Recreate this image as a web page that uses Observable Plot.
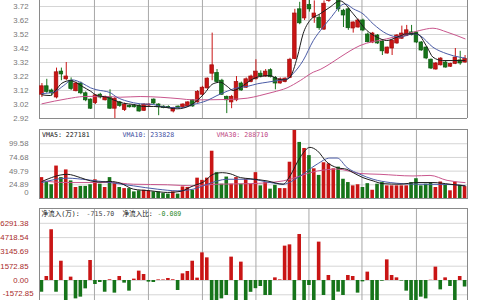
<!DOCTYPE html>
<html>
<head>
<meta charset="utf-8">
<script src="https://cdn.jsdelivr.net/npm/d3@7"></script>
<script src="https://cdn.jsdelivr.net/npm/@observablehq/plot@0.6"></script>
<style>
  html, body { margin: 0; padding: 0; background: #fff; }
  #chart { position: relative; width: 500px; height: 300px; overflow: hidden; background: #fff; }
  #chart svg { position: absolute; left: 0; }
</style>
</head>
<body>
<div id="chart"></div>
<script>
// Daily candles (price), one entry per trading day
const opens = [3.09,3.15,3.12,3.07,3.255,3.20,3.19,3.115,3.17,3.10,3.055,3.03,3.09,3.05,3.07,2.99,3.035,2.98,3.01,3.01,3.01,2.975,3.013,3.055,3.02,3.005,3.003,2.97,3.005,3.0,3.006,3.05,3.035,3.09,3.135,3.24,3.245,3.19,3.075,3.035,3.05,3.17,3.14,3.18,3.20,3.24,3.22,3.265,3.21,3.17,3.18,3.21,3.345,3.70,3.635,3.73,3.64,3.64,3.555,3.76,3.82,3.86,3.69,3.70,3.563,3.57,3.62,3.52,3.463,3.513,3.47,3.384,3.42,3.456,3.49,3.51,3.535,3.534,3.463,3.427,3.34,3.27,3.30,3.32,3.29,3.31,3.335,3.32];
const highs = [3.17,3.20,3.13,3.28,3.28,3.32,3.21,3.18,3.18,3.11,3.06,3.09,3.10,3.08,3.125,3.07,3.04,3.03,3.015,3.02,3.02,3.025,3.025,3.06,3.025,3.01,3.01,3.0,3.01,3.025,3.04,3.055,3.12,3.15,3.21,3.53,3.27,3.20,3.08,3.085,3.22,3.18,3.21,3.23,3.34,3.26,3.27,3.275,3.22,3.21,3.21,3.35,3.70,3.75,3.78,3.77,3.76,3.66,3.76,3.88,3.90,3.88,3.70,3.71,3.61,3.63,3.63,3.53,3.535,3.52,3.475,3.43,3.48,3.52,3.58,3.585,3.585,3.54,3.47,3.43,3.345,3.32,3.355,3.33,3.315,3.42,3.40,3.37];
const lows = [3.07,3.10,3.08,3.06,3.19,3.19,3.12,3.11,3.09,3.04,2.985,3.02,3.06,3.045,2.985,2.92,3.0,2.97,2.995,2.995,2.965,2.97,3.005,3.02,2.94,2.99,2.99,2.96,2.99,2.995,3.0,3.0,3.03,3.08,3.13,3.19,3.17,3.085,2.955,2.99,3.04,3.115,3.135,3.175,3.195,3.21,3.215,3.21,3.125,3.165,3.175,3.205,3.34,3.59,3.62,3.68,3.60,3.55,3.55,3.75,3.79,3.68,3.57,3.55,3.53,3.565,3.54,3.46,3.455,3.45,3.37,3.38,3.37,3.45,3.485,3.505,3.51,3.455,3.40,3.34,3.27,3.265,3.295,3.28,3.285,3.305,3.30,3.315];
const closes = [3.15,3.11,3.10,3.25,3.235,3.22,3.13,3.17,3.10,3.05,2.99,3.085,3.07,3.07,2.99,3.06,3.01,3.02,3.0,3.0,2.97,3.02,3.02,3.027,3.0,2.995,2.995,2.995,2.995,3.02,3.035,3.006,3.11,3.14,3.205,3.30,3.18,3.09,3.05,3.075,3.18,3.12,3.20,3.22,3.255,3.22,3.255,3.215,3.17,3.20,3.205,3.34,3.67,3.60,3.765,3.70,3.67,3.565,3.74,3.84,3.87,3.70,3.656,3.565,3.606,3.62,3.549,3.465,3.527,3.456,3.40,3.427,3.477,3.513,3.527,3.55,3.515,3.463,3.406,3.349,3.277,3.313,3.348,3.284,3.31,3.355,3.313,3.345];

// Moving averages of the close, as [day, price]
const ma5 = [[0,3.089],[1.7,3.084],[2.8,3.12],[4.1,3.172],[5.9,3.191],[6.9,3.179],[8.3,3.149],[10,3.115],[11.3,3.084],[13.4,3.072],[14.7,3.053],[16.8,3.029],[18.9,3.02],[20.9,3.006],[23,3.006],[25,3.001],[27.8,2.989],[30.5,3.013],[33.2,3.091],[35.2,3.168],[36.7,3.179],[38.1,3.149],[39.3,3.12],[41.4,3.156],[42.8,3.191],[44.8,3.22],[46.9,3.227],[48.4,3.203],[50,3.196],[51,3.215],[52.5,3.358],[53.7,3.525],[55.1,3.62],[57.2,3.668],[59.2,3.715],[61.3,3.76],[64,3.668],[66.8,3.549],[68.9,3.501],[70.9,3.477],[73,3.501],[75.1,3.525],[77.1,3.525],[79.2,3.429],[80.4,3.358],[82.4,3.334],[84.5,3.334],[87,3.334]];
const ma10 = [[0,3.098],[2.4,3.108],[4.5,3.156],[6.2,3.196],[8.3,3.172],[10,3.139],[11.3,3.125],[14,3.105],[15.4,3.072],[17.5,3.044],[20.2,3.025],[23,3.02],[24.3,3.006],[28.4,2.996],[31.1,3.02],[34,3.049],[36,3.084],[38.1,3.115],[40.1,3.139],[42.2,3.149],[44.3,3.168],[46.3,3.179],[48.4,3.191],[50.4,3.203],[51.6,3.239],[53.7,3.334],[55.8,3.477],[57.8,3.572],[59.2,3.632],[62.3,3.739],[64,3.704],[66,3.668],[68.1,3.596],[70.9,3.525],[73.6,3.501],[76.3,3.525],[77.7,3.513],[80.4,3.429],[83.3,3.382],[85.9,3.358],[87,3.353]];
const ma30 = [[0,3.025],[5.2,3.061],[8.6,3.077],[12,3.079],[16.1,3.072],[20.2,3.077],[24.3,3.072],[28.4,3.061],[31.1,3.053],[38.1,3.056],[42.2,3.065],[44.8,3.084],[47.5,3.108],[50.4,3.139],[53.1,3.191],[55.8,3.251],[57.2,3.27],[59.2,3.31],[61.3,3.358],[65.4,3.441],[70.9,3.489],[75.1,3.525],[77.7,3.549],[80.4,3.565],[83.3,3.537],[87,3.489]];

// Daily volume (axis units) and its moving averages
const volumes = [38,29,25,59,38,52,32,20,22,22,25,34,26,20,38,27,20,18,18,12,14,15,14,12,12,9,8,12,8,21,20,15,37,33,37,86,47,26,39,26,38,26,35,26,47,23,29,17,24,18,18,66,124,102,91,78,54,42,65,63,54,57,35,29,23,25,20,27,15,26,29,23,23,23,23,23,29,36,23,26,29,20,30,24,14,30,24,21.6];
const vma5 = [[0,31],[5.2,44],[7.9,38],[10,32],[12,30],[14,31],[16.1,28],[18.8,17],[22.3,14],[25.8,11],[28.4,12.8],[31.1,23],[33.2,30],[35.2,44],[37.1,47],[38.7,45],[40.8,38],[42.8,36],[46.3,32],[49.6,26],[51,41],[53.1,75],[55.1,93],[56.6,87],[58.6,66],[60.7,56],[62.7,53],[64,47],[66,38],[68.1,32],[70.1,27],[73.6,26],[77.1,29],[80.4,29],[83.9,26],[87,22.7181]];
const vma10 = [[0,29],[5.2,37],[9.3,34],[14,29],[18.8,23],[23.7,17],[27.8,14],[31.1,17],[34,26],[38.1,35],[42.8,35],[46.9,29],[49.6,26],[53.1,41],[56.6,62.6],[59.2,73.6],[60.7,73.6],[62.7,56.5],[65.4,44],[68.1,35],[71.6,29],[77.1,26],[83.9,25.5],[87,23.3828]];
const vma30 = [[0,32],[5.2,29],[14,29],[18.8,26],[25.8,25],[31.1,23],[36,26],[42.8,27],[49.6,32],[56.6,50],[60.7,53.5],[65.4,45.5],[69.5,44],[76.3,41],[79.8,42],[83.3,33],[87,28.871]];

// Daily net capital inflow (万)
const netFlows = [-1290,440,5580,-1290,2120,-2500,370,-2020,-1830,-920,2200,-440,-220,-1290,80,-1390,440,-290,-1170,150,1030,660,-180,-220,70,60,220,80,-1100,730,990,2120,260,3040,2490,-2500,-2500,-2020,-1650,2570,-2500,2020,-2500,-1300,-900,-660,-1650,-1650,290,70,3780,3920,-2500,5060,-2500,-550,-2500,4220,-1650,550,-2500,-1280,-1650,550,440,-1390,-150,920,-2500,-2500,-80,2270,550,290,-60,-1170,-2500,-2500,-1830,-2020,30,1470,-1030,290,-660,-2500,440,-715.70];
const netFlowRatio = -0.089;

// Axis tick values
const priceTicks = [2.92,3.02,3.12,3.22,3.32,3.42,3.52,3.62,3.72];
const volumeTicks = [24.89,49.79,74.68,99.58];
const flowTicks = [6291.38,4718.54,3145.69,1572.85,0];
const flowNegTicks = [-1572.85];

// Day positions of the vertical grid lines
const gridDays = [10.8,21.9,33,44,54.9,65.8,77];

const N = closes.length;
const RED = "#c91515", RED_EDGE = "#a00d0d", GREEN = "#16741a", GREEN_EDGE = "#0c5a10";
const C_MA5 = "#1c1c1c", C_MA10 = "#4a5ba6", C_MA30 = "#c9568d";
const H_GRID = "#d5d5d5", V_GRID = "#a8a8a8", FRAME = "#8a8a8a";
const LABEL_FONT = "'Liberation Sans', Arial, sans-serif";
const MONO = "'DejaVu Sans Mono', 'Noto Sans CJK SC', monospace";
const W = 500, ML = 39, MR = 33;
const HALF = 0.37;

const xOpts = () => ({domain: [-0.5, N - 0.5], axis: null});
const pts = arr => arr.map(([i, v]) => ({i, v}));
const candles = closes.map((c, i) => ({i, open: opens[i], high: highs[i], low: lows[i], close: c, up: c >= opens[i]}));
const ups = candles.filter(d => d.up), downs = candles.filter(d => !d.up);
const volRows = volumes.map((v, i) => ({i, v, up: candles[i].up}));
const flowRows = netFlows.map((v, i) => ({i, v}));

const maLines = (a5, a10, a30) => [
  Plot.line(pts(a30), {x: "i", y: "v", stroke: C_MA30, strokeWidth: 1, curve: "monotone-x", clip: true}),
  Plot.line(pts(a10), {x: "i", y: "v", stroke: C_MA10, strokeWidth: 1, curve: "monotone-x", clip: true}),
  Plot.line(pts(a5), {x: "i", y: "v", stroke: C_MA5, strokeWidth: 1, curve: "monotone-x", clip: true})
];
const tickLabels = (ticks, fmt, fill, extra = {}) =>
  Plot.text(ticks, {y: d => d, text: fmt, frameAnchor: "left", dx: -11, textAnchor: "end",
    fill, fontSize: 7.8, fontFamily: LABEL_FONT, ...extra});
const header = (str, dx, fill) =>
  Plot.text([str], {text: d => d, frameAnchor: "top-left", dx, dy: 5.5, lineAnchor: "middle",
    textAnchor: "start", fill, fontSize: 6.6, fontFamily: MONO});
const bars = (rows, fill, y1) =>
  Plot.rect(rows, {x1: d => d.i - HALF, x2: d => d.i + HALF, y1, y2: "v", fill, clip: true});

// Price panel: candles with MA5 / MA10 / MA30
const main = Plot.plot({
  width: W, height: 124, marginLeft: ML, marginRight: MR, marginTop: 0, marginBottom: 6,
  x: xOpts(), y: {domain: [2.92, 3.763], axis: null},
  marks: [
    Plot.ruleY(priceTicks, {stroke: H_GRID}),
    Plot.ruleX(gridDays, {stroke: V_GRID}),
    Plot.ruleX([-0.5, N - 0.5], {stroke: FRAME}),
    Plot.ruleY([2.92], {stroke: FRAME}),
    Plot.ruleX(ups, {x: "i", y1: "low", y2: "high", stroke: RED, clip: true}),
    Plot.ruleX(downs, {x: "i", y1: "low", y2: "high", stroke: GREEN, clip: true}),
    Plot.rect(ups, {x1: d => d.i - HALF, x2: d => d.i + HALF, y1: "open", y2: "close", fill: RED, stroke: RED_EDGE, strokeWidth: 0.7, clip: true}),
    Plot.rect(downs, {x1: d => d.i - HALF, x2: d => d.i + HALF, y1: "open", y2: "close", fill: GREEN, stroke: GREEN_EDGE, strokeWidth: 0.7, clip: true}),
    ...maLines(ma5, ma10, ma30),
    tickLabels(priceTicks, d => d.toFixed(2), "#777")
  ]
});

// Volume panel
const vol = Plot.plot({
  width: W, height: 76, marginLeft: ML, marginRight: MR, marginTop: 4, marginBottom: 3,
  x: xOpts(), y: {domain: [0, 125.5], axis: null},
  marks: [
    Plot.ruleY(volumeTicks, {stroke: H_GRID}),
    Plot.ruleX(gridDays, {stroke: V_GRID}),
    bars(volRows.filter(d => d.up), RED, 0),
    bars(volRows.filter(d => !d.up), GREEN, 0),
    ...maLines(vma5, vma10, vma30),
    Plot.frame({stroke: FRAME}),
    tickLabels(volumeTicks, d => d.toFixed(2), "#777"),
    tickLabels([0], () => "0", "#777", {dy: -6}),
    header("VMA5: " + Math.round(vma5[vma5.length - 1][1] * 10000), 2.5, "#111"),
    header("VMA10: " + Math.round(vma10[vma10.length - 1][1] * 10000), 83, "#3a4aa0"),
    header("VMA30: " + Math.round(vma30[vma30.length - 1][1] * 10000), 177, "#c0457f")
  ]
});

// Net inflow panel
const flowTop = 7919;
const flow = Plot.plot({
  width: W, height: 96, marginLeft: ML, marginRight: MR, marginTop: 4, marginBottom: 0,
  x: xOpts(), y: {domain: [-2200, flowTop], axis: null},
  marks: [
    Plot.ruleY([...flowTicks, ...flowNegTicks], {stroke: H_GRID}),
    Plot.ruleX(gridDays, {stroke: V_GRID}),
    bars(flowRows.filter(d => d.v >= 0), RED, 0),
    bars(flowRows.filter(d => d.v < 0), GREEN, 0),
    Plot.ruleX([-0.5, N - 0.5], {stroke: FRAME}),
    Plot.ruleY([flowTop], {stroke: FRAME}),
    tickLabels(flowTicks, d => d.toFixed(2), "#a82a2a"),
    tickLabels(flowNegTicks, d => d.toFixed(2), "#a82a2a", {dx: -6, dy: -1}),
    header("净流入(万):", 2, "#111"),
    header(netFlows[N - 1].toFixed(2), 47, "#444"),
    header("净流入比:", 83, "#111"),
    header(netFlowRatio.toFixed(3), 118, "#2a8a2a")
  ]
});

const box = document.getElementById("chart");
[[main, 0], [vol, 125], [flow, 204]].forEach(([svg, top]) => {
  svg.style.top = top + "px";
  box.append(svg);
});
</script>
</body>
</html>
